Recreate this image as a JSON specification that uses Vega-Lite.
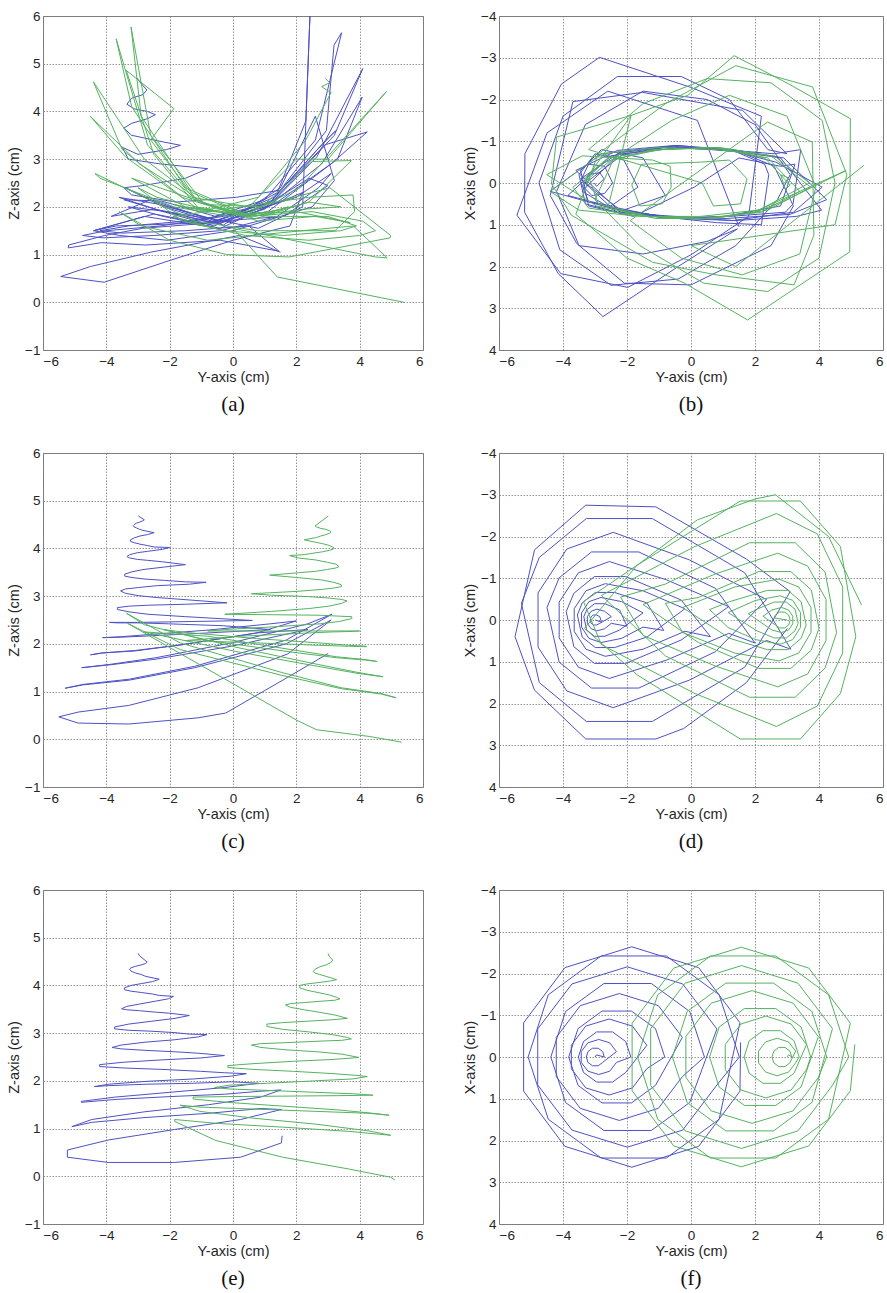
{
"$schema":"https://vega.github.io/schema/vega-lite/v6.json",
"background":"white",
"padding":{"left":6,"top":8,"right":0,"bottom":0},
"datasets":{"d":[
{"r":3,"s":"b","i":0,"y":-3.00,"x":0,"z":4.67},
{"r":3,"s":"b","i":1,"y":-2.95,"x":-0.05,"z":4.62},
{"r":3,"s":"b","i":2,"y":-2.71,"x":0,"z":4.49},
{"r":3,"s":"b","i":3,"y":-2.76,"x":-0.13,"z":4.46},
{"r":3,"s":"b","i":4,"y":-2.90,"x":-0.21,"z":4.43},
{"r":3,"s":"b","i":5,"y":-3.08,"x":-0.21,"z":4.40},
{"r":3,"s":"b","i":6,"y":-3.22,"x":-0.13,"z":4.37},
{"r":3,"s":"b","i":7,"y":-3.27,"x":0,"z":4.34},
{"r":3,"s":"b","i":8,"y":-3.22,"x":0.13,"z":4.30},
{"r":3,"s":"b","i":9,"y":-3.08,"x":0.21,"z":4.26},
{"r":3,"s":"b","i":10,"y":-2.90,"x":0.21,"z":4.23},
{"r":3,"s":"b","i":11,"y":-2.76,"x":0.13,"z":4.19},
{"r":3,"s":"b","i":12,"y":-2.33,"x":-0.13,"z":4.13},
{"r":3,"s":"b","i":13,"y":-2.54,"x":-0.34,"z":4.08},
{"r":3,"s":"b","i":14,"y":-2.88,"x":-0.42,"z":4.04},
{"r":3,"s":"b","i":15,"y":-3.22,"x":-0.34,"z":4.00},
{"r":3,"s":"b","i":16,"y":-3.43,"x":-0.13,"z":3.95},
{"r":3,"s":"b","i":17,"y":-3.43,"x":0.13,"z":3.91},
{"r":3,"s":"b","i":18,"y":-3.22,"x":0.34,"z":3.88},
{"r":3,"s":"b","i":19,"y":-2.88,"x":0.42,"z":3.85},
{"r":3,"s":"b","i":20,"y":-2.54,"x":0.34,"z":3.82},
{"r":3,"s":"b","i":21,"y":-2.33,"x":0.13,"z":3.79},
{"r":3,"s":"b","i":22,"y":-1.88,"x":0,"z":3.77},
{"r":3,"s":"b","i":23,"y":-2.04,"x":-0.37,"z":3.72},
{"r":3,"s":"b","i":24,"y":-2.45,"x":-0.60,"z":3.67},
{"r":3,"s":"b","i":25,"y":-2.95,"x":-0.60,"z":3.61},
{"r":3,"s":"b","i":26,"y":-3.36,"x":-0.37,"z":3.56},
{"r":3,"s":"b","i":27,"y":-3.52,"x":0,"z":3.51},
{"r":3,"s":"b","i":28,"y":-3.36,"x":0.37,"z":3.49},
{"r":3,"s":"b","i":29,"y":-2.95,"x":0.60,"z":3.47},
{"r":3,"s":"b","i":30,"y":-2.45,"x":0.60,"z":3.44},
{"r":3,"s":"b","i":31,"y":-2.04,"x":0.37,"z":3.42},
{"r":3,"s":"b","i":32,"y":-1.38,"x":-0.28,"z":3.37},
{"r":3,"s":"b","i":33,"y":-1.83,"x":-0.74,"z":3.31},
{"r":3,"s":"b","i":34,"y":-2.56,"x":-0.91,"z":3.25},
{"r":3,"s":"b","i":35,"y":-3.29,"x":-0.74,"z":3.19},
{"r":3,"s":"b","i":36,"y":-3.74,"x":-0.28,"z":3.13},
{"r":3,"s":"b","i":37,"y":-3.74,"x":0.28,"z":3.09},
{"r":3,"s":"b","i":38,"y":-3.29,"x":0.74,"z":3.06},
{"r":3,"s":"b","i":39,"y":-2.56,"x":0.91,"z":3.04},
{"r":3,"s":"b","i":40,"y":-1.83,"x":0.74,"z":3.01},
{"r":3,"s":"b","i":41,"y":-1.38,"x":0.28,"z":2.98},
{"r":3,"s":"b","i":42,"y":-0.82,"x":0,"z":2.97},
{"r":3,"s":"b","i":43,"y":-1.11,"x":-0.68,"z":2.92},
{"r":3,"s":"b","i":44,"y":-1.86,"x":-1.10,"z":2.86},
{"r":3,"s":"b","i":45,"y":-2.78,"x":-1.10,"z":2.81},
{"r":3,"s":"b","i":46,"y":-3.53,"x":-0.68,"z":2.75},
{"r":3,"s":"b","i":47,"y":-3.82,"x":0,"z":2.70},
{"r":3,"s":"b","i":48,"y":-3.53,"x":0.68,"z":2.67},
{"r":3,"s":"b","i":49,"y":-2.78,"x":1.10,"z":2.64},
{"r":3,"s":"b","i":50,"y":-1.86,"x":1.10,"z":2.61},
{"r":3,"s":"b","i":51,"y":-1.11,"x":0.68,"z":2.58},
{"r":3,"s":"b","i":52,"y":-0.27,"x":-0.47,"z":2.53},
{"r":3,"s":"b","i":53,"y":-1.02,"x":-1.23,"z":2.48},
{"r":3,"s":"b","i":54,"y":-2.24,"x":-1.52,"z":2.44},
{"r":3,"s":"b","i":55,"y":-3.46,"x":-1.23,"z":2.39},
{"r":3,"s":"b","i":56,"y":-4.21,"x":-0.47,"z":2.34},
{"r":3,"s":"b","i":57,"y":-4.21,"x":0.47,"z":2.30},
{"r":3,"s":"b","i":58,"y":-3.46,"x":1.23,"z":2.27},
{"r":3,"s":"b","i":59,"y":-2.24,"x":1.52,"z":2.24},
{"r":3,"s":"b","i":60,"y":-1.02,"x":1.23,"z":2.20},
{"r":3,"s":"b","i":61,"y":-0.27,"x":0.47,"z":2.17},
{"r":3,"s":"b","i":62,"y":0.42,"x":0,"z":2.15},
{"r":3,"s":"b","i":63,"y":-0.04,"x":-1.09,"z":2.10},
{"r":3,"s":"b","i":64,"y":-1.24,"x":-1.76,"z":2.04},
{"r":3,"s":"b","i":65,"y":-2.72,"x":-1.76,"z":1.99},
{"r":3,"s":"b","i":66,"y":-3.92,"x":-1.09,"z":1.93},
{"r":3,"s":"b","i":67,"y":-4.38,"x":0,"z":1.88},
{"r":3,"s":"b","i":68,"y":-3.92,"x":1.09,"z":1.90},
{"r":3,"s":"b","i":69,"y":-2.72,"x":1.76,"z":1.93},
{"r":3,"s":"b","i":70,"y":-1.24,"x":1.76,"z":1.95},
{"r":3,"s":"b","i":71,"y":-0.04,"x":1.09,"z":1.98},
{"r":3,"s":"b","i":72,"y":0.81,"x":-0.67,"z":1.95},
{"r":3,"s":"b","i":73,"y":-0.26,"x":-1.75,"z":1.86},
{"r":3,"s":"b","i":74,"y":-1.99,"x":-2.16,"z":1.76},
{"r":3,"s":"b","i":75,"y":-3.72,"x":-1.75,"z":1.66},
{"r":3,"s":"b","i":76,"y":-4.79,"x":-0.67,"z":1.57},
{"r":3,"s":"b","i":77,"y":-4.79,"x":0.67,"z":1.55},
{"r":3,"s":"b","i":78,"y":-3.72,"x":1.75,"z":1.61},
{"r":3,"s":"b","i":79,"y":-1.99,"x":2.16,"z":1.67},
{"r":3,"s":"b","i":80,"y":-0.26,"x":1.75,"z":1.72},
{"r":3,"s":"b","i":81,"y":0.81,"x":0.67,"z":1.78},
{"r":3,"s":"b","i":82,"y":1.51,"x":0,"z":1.81},
{"r":3,"s":"b","i":83,"y":0.88,"x":-1.49,"z":1.66},
{"r":3,"s":"b","i":84,"y":-0.77,"x":-2.42,"z":1.50},
{"r":3,"s":"b","i":85,"y":-2.81,"x":-2.42,"z":1.35},
{"r":3,"s":"b","i":86,"y":-4.46,"x":-1.49,"z":1.19},
{"r":3,"s":"b","i":87,"y":-5.09,"x":0,"z":1.04},
{"r":3,"s":"b","i":88,"y":-4.46,"x":1.49,"z":1.13},
{"r":3,"s":"b","i":89,"y":-2.81,"x":2.42,"z":1.23},
{"r":3,"s":"b","i":90,"y":-0.77,"x":2.42,"z":1.32},
{"r":3,"s":"b","i":91,"y":0.88,"x":1.49,"z":1.42},
{"r":3,"s":"b","i":92,"y":1.53,"x":-0.82,"z":1.40},
{"r":3,"s":"b","i":93,"y":0.24,"x":-2.14,"z":1.19},
{"r":3,"s":"b","i":94,"y":-1.85,"x":-2.64,"z":0.98},
{"r":3,"s":"b","i":95,"y":-3.94,"x":-2.14,"z":0.76},
{"r":3,"s":"b","i":96,"y":-5.23,"x":-0.82,"z":0.55},
{"r":3,"s":"b","i":97,"y":-5.23,"x":0.82,"z":0.40},
{"r":3,"s":"b","i":98,"y":-3.94,"x":2.14,"z":0.29},
{"r":3,"s":"b","i":99,"y":-1.85,"x":2.64,"z":0.29},
{"r":3,"s":"b","i":100,"y":0.24,"x":2.14,"z":0.40},
{"r":3,"s":"b","i":101,"y":1.53,"x":0.82,"z":0.70},
{"r":3,"s":"b","i":102,"y":1.55,"x":-0.35,"z":0.85},
{"r":3,"s":"g","i":0,"y":3.00,"x":0,"z":4.67},
{"r":3,"s":"g","i":1,"y":3.05,"x":-0.05,"z":4.60},
{"r":3,"s":"g","i":2,"y":3.15,"x":0,"z":4.53},
{"r":3,"s":"g","i":3,"y":3.09,"x":-0.14,"z":4.48},
{"r":3,"s":"g","i":4,"y":2.94,"x":-0.23,"z":4.43},
{"r":3,"s":"g","i":5,"y":2.74,"x":-0.23,"z":4.39},
{"r":3,"s":"g","i":6,"y":2.59,"x":-0.14,"z":4.34},
{"r":3,"s":"g","i":7,"y":2.53,"x":0,"z":4.29},
{"r":3,"s":"g","i":8,"y":2.59,"x":0.14,"z":4.26},
{"r":3,"s":"g","i":9,"y":2.74,"x":0.23,"z":4.23},
{"r":3,"s":"g","i":10,"y":2.94,"x":0.23,"z":4.19},
{"r":3,"s":"g","i":11,"y":3.09,"x":0.14,"z":4.16},
{"r":3,"s":"g","i":12,"y":3.27,"x":-0.14,"z":4.12},
{"r":3,"s":"g","i":13,"y":3.05,"x":-0.36,"z":4.09},
{"r":3,"s":"g","i":14,"y":2.69,"x":-0.45,"z":4.06},
{"r":3,"s":"g","i":15,"y":2.33,"x":-0.36,"z":4.03},
{"r":3,"s":"g","i":16,"y":2.11,"x":-0.14,"z":4.00},
{"r":3,"s":"g","i":17,"y":2.11,"x":0.14,"z":3.95},
{"r":3,"s":"g","i":18,"y":2.33,"x":0.36,"z":3.90},
{"r":3,"s":"g","i":19,"y":2.69,"x":0.45,"z":3.85},
{"r":3,"s":"g","i":20,"y":3.05,"x":0.36,"z":3.80},
{"r":3,"s":"g","i":21,"y":3.27,"x":0.14,"z":3.75},
{"r":3,"s":"g","i":22,"y":3.38,"x":0,"z":3.72},
{"r":3,"s":"g","i":23,"y":3.22,"x":-0.39,"z":3.69},
{"r":3,"s":"g","i":24,"y":2.79,"x":-0.63,"z":3.67},
{"r":3,"s":"g","i":25,"y":2.25,"x":-0.63,"z":3.64},
{"r":3,"s":"g","i":26,"y":1.82,"x":-0.39,"z":3.62},
{"r":3,"s":"g","i":27,"y":1.66,"x":0,"z":3.59},
{"r":3,"s":"g","i":28,"y":1.82,"x":0.39,"z":3.54},
{"r":3,"s":"g","i":29,"y":2.25,"x":0.63,"z":3.49},
{"r":3,"s":"g","i":30,"y":2.79,"x":0.63,"z":3.43},
{"r":3,"s":"g","i":31,"y":3.22,"x":0.39,"z":3.38},
{"r":3,"s":"g","i":32,"y":3.61,"x":-0.30,"z":3.31},
{"r":3,"s":"g","i":33,"y":3.13,"x":-0.79,"z":3.28},
{"r":3,"s":"g","i":34,"y":2.34,"x":-0.98,"z":3.25},
{"r":3,"s":"g","i":35,"y":1.56,"x":-0.79,"z":3.22},
{"r":3,"s":"g","i":36,"y":1.07,"x":-0.30,"z":3.19},
{"r":3,"s":"g","i":37,"y":1.07,"x":0.30,"z":3.14},
{"r":3,"s":"g","i":38,"y":1.56,"x":0.79,"z":3.08},
{"r":3,"s":"g","i":39,"y":2.34,"x":0.98,"z":3.03},
{"r":3,"s":"g","i":40,"y":3.13,"x":0.79,"z":2.97},
{"r":3,"s":"g","i":41,"y":3.61,"x":0.30,"z":2.91},
{"r":3,"s":"g","i":42,"y":3.74,"x":0,"z":2.88},
{"r":3,"s":"g","i":43,"y":3.44,"x":-0.72,"z":2.85},
{"r":3,"s":"g","i":44,"y":2.65,"x":-1.16,"z":2.83},
{"r":3,"s":"g","i":45,"y":1.67,"x":-1.16,"z":2.80},
{"r":3,"s":"g","i":46,"y":0.88,"x":-0.72,"z":2.78},
{"r":3,"s":"g","i":47,"y":0.58,"x":0,"z":2.75},
{"r":3,"s":"g","i":48,"y":0.88,"x":0.72,"z":2.70},
{"r":3,"s":"g","i":49,"y":1.67,"x":1.16,"z":2.65},
{"r":3,"s":"g","i":50,"y":2.65,"x":1.16,"z":2.61},
{"r":3,"s":"g","i":51,"y":3.44,"x":0.72,"z":2.56},
{"r":3,"s":"g","i":52,"y":3.98,"x":-0.49,"z":2.49},
{"r":3,"s":"g","i":53,"y":3.19,"x":-1.29,"z":2.45},
{"r":3,"s":"g","i":54,"y":1.91,"x":-1.59,"z":2.41},
{"r":3,"s":"g","i":55,"y":0.63,"x":-1.29,"z":2.36},
{"r":3,"s":"g","i":56,"y":-0.16,"x":-0.49,"z":2.32},
{"r":3,"s":"g","i":57,"y":-0.16,"x":0.49,"z":2.28},
{"r":3,"s":"g","i":58,"y":0.63,"x":1.29,"z":2.24},
{"r":3,"s":"g","i":59,"y":1.91,"x":1.59,"z":2.20},
{"r":3,"s":"g","i":60,"y":3.19,"x":1.29,"z":2.15},
{"r":3,"s":"g","i":61,"y":3.98,"x":0.49,"z":2.11},
{"r":3,"s":"g","i":62,"y":4.24,"x":0,"z":2.09},
{"r":3,"s":"g","i":63,"y":3.78,"x":-1.09,"z":2.04},
{"r":3,"s":"g","i":64,"y":2.58,"x":-1.77,"z":2.00},
{"r":3,"s":"g","i":65,"y":1.09,"x":-1.77,"z":1.95},
{"r":3,"s":"g","i":66,"y":-0.12,"x":-1.09,"z":1.91},
{"r":3,"s":"g","i":67,"y":-0.58,"x":0,"z":1.86},
{"r":3,"s":"g","i":68,"y":-0.12,"x":1.09,"z":1.83},
{"r":3,"s":"g","i":69,"y":1.09,"x":1.77,"z":1.80},
{"r":3,"s":"g","i":70,"y":2.58,"x":1.77,"z":1.76},
{"r":3,"s":"g","i":71,"y":3.78,"x":1.09,"z":1.73},
{"r":3,"s":"g","i":72,"y":4.42,"x":-0.68,"z":1.70},
{"r":3,"s":"g","i":73,"y":3.34,"x":-1.77,"z":1.69},
{"r":3,"s":"g","i":74,"y":1.58,"x":-2.19,"z":1.68},
{"r":3,"s":"g","i":75,"y":-0.18,"x":-1.77,"z":1.67},
{"r":3,"s":"g","i":76,"y":-1.26,"x":-0.68,"z":1.66},
{"r":3,"s":"g","i":77,"y":-1.26,"x":0.68,"z":1.62},
{"r":3,"s":"g","i":78,"y":-0.18,"x":1.77,"z":1.55},
{"r":3,"s":"g","i":79,"y":1.58,"x":2.19,"z":1.47},
{"r":3,"s":"g","i":80,"y":3.34,"x":1.77,"z":1.39},
{"r":3,"s":"g","i":81,"y":4.42,"x":0.68,"z":1.32},
{"r":3,"s":"g","i":82,"y":4.93,"x":0,"z":1.28},
{"r":3,"s":"g","i":83,"y":4.30,"x":-1.49,"z":1.32},
{"r":3,"s":"g","i":84,"y":2.65,"x":-2.42,"z":1.36},
{"r":3,"s":"g","i":85,"y":0.61,"x":-2.42,"z":1.41},
{"r":3,"s":"g","i":86,"y":-1.04,"x":-1.49,"z":1.45},
{"r":3,"s":"g","i":87,"y":-1.67,"x":0,"z":1.49},
{"r":3,"s":"g","i":88,"y":-1.04,"x":1.49,"z":1.36},
{"r":3,"s":"g","i":89,"y":0.61,"x":2.42,"z":1.22},
{"r":3,"s":"g","i":90,"y":2.65,"x":2.42,"z":1.09},
{"r":3,"s":"g","i":91,"y":4.30,"x":1.49,"z":0.95},
{"r":3,"s":"g","i":92,"y":4.98,"x":-0.81,"z":0.86},
{"r":3,"s":"g","i":93,"y":3.68,"x":-2.13,"z":0.94},
{"r":3,"s":"g","i":94,"y":1.57,"x":-2.63,"z":1.03},
{"r":3,"s":"g","i":95,"y":-0.54,"x":-2.13,"z":1.11},
{"r":3,"s":"g","i":96,"y":-1.84,"x":-0.81,"z":1.19},
{"r":3,"s":"g","i":97,"y":-1.84,"x":0.81,"z":1.15},
{"r":3,"s":"g","i":98,"y":-0.54,"x":2.13,"z":0.75},
{"r":3,"s":"g","i":99,"y":1.57,"x":2.63,"z":0.40},
{"r":3,"s":"g","i":100,"y":3.68,"x":2.13,"z":0.15},
{"r":3,"s":"g","i":101,"y":4.98,"x":0.81,"z":-0.02},
{"r":3,"s":"g","i":102,"y":5.12,"x":-0.30,"z":-0.08},
{"r":2,"s":"b","i":0,"y":-2.99,"x":0,"z":4.68},
{"r":2,"s":"b","i":1,"y":-2.80,"x":0.05,"z":4.60},
{"r":2,"s":"b","i":2,"y":-2.85,"x":-0.08,"z":4.58},
{"r":2,"s":"b","i":3,"y":-2.95,"x":-0.12,"z":4.55},
{"r":2,"s":"b","i":4,"y":-3.05,"x":-0.12,"z":4.53},
{"r":2,"s":"b","i":5,"y":-3.12,"x":-0.08,"z":4.50},
{"r":2,"s":"b","i":6,"y":-3.15,"x":0,"z":4.48},
{"r":2,"s":"b","i":7,"y":-3.12,"x":0.08,"z":4.45},
{"r":2,"s":"b","i":8,"y":-3.05,"x":0.12,"z":4.43},
{"r":2,"s":"b","i":9,"y":-2.95,"x":0.12,"z":4.40},
{"r":2,"s":"b","i":10,"y":-2.85,"x":0.08,"z":4.38},
{"r":2,"s":"b","i":11,"y":-2.49,"x":-0.08,"z":4.33},
{"r":2,"s":"b","i":12,"y":-2.70,"x":-0.21,"z":4.29},
{"r":2,"s":"b","i":13,"y":-2.94,"x":-0.26,"z":4.26},
{"r":2,"s":"b","i":14,"y":-3.12,"x":-0.21,"z":4.22},
{"r":2,"s":"b","i":15,"y":-3.24,"x":-0.08,"z":4.18},
{"r":2,"s":"b","i":16,"y":-3.24,"x":0.08,"z":4.15},
{"r":2,"s":"b","i":17,"y":-3.12,"x":0.21,"z":4.12},
{"r":2,"s":"b","i":18,"y":-2.94,"x":0.26,"z":4.09},
{"r":2,"s":"b","i":19,"y":-2.70,"x":0.21,"z":4.06},
{"r":2,"s":"b","i":20,"y":-2.49,"x":0.08,"z":4.03},
{"r":2,"s":"b","i":21,"y":-2.00,"x":0.15,"z":4.02},
{"r":2,"s":"b","i":22,"y":-2.23,"x":-0.24,"z":3.98},
{"r":2,"s":"b","i":23,"y":-2.69,"x":-0.39,"z":3.94},
{"r":2,"s":"b","i":24,"y":-3.02,"x":-0.39,"z":3.91},
{"r":2,"s":"b","i":25,"y":-3.26,"x":-0.24,"z":3.87},
{"r":2,"s":"b","i":26,"y":-3.35,"x":-0.08,"z":3.83},
{"r":2,"s":"b","i":27,"y":-3.26,"x":0.24,"z":3.80},
{"r":2,"s":"b","i":28,"y":-3.02,"x":0.39,"z":3.77},
{"r":2,"s":"b","i":29,"y":-2.69,"x":0.39,"z":3.75},
{"r":2,"s":"b","i":30,"y":-2.23,"x":0.24,"z":3.72},
{"r":2,"s":"b","i":31,"y":-1.50,"x":-0.17,"z":3.66},
{"r":2,"s":"b","i":32,"y":-2.17,"x":-0.44,"z":3.61},
{"r":2,"s":"b","i":33,"y":-2.81,"x":-0.54,"z":3.56},
{"r":2,"s":"b","i":34,"y":-3.19,"x":-0.44,"z":3.51},
{"r":2,"s":"b","i":35,"y":-3.42,"x":-0.17,"z":3.46},
{"r":2,"s":"b","i":36,"y":-3.42,"x":0.17,"z":3.42},
{"r":2,"s":"b","i":37,"y":-3.19,"x":0.44,"z":3.39},
{"r":2,"s":"b","i":38,"y":-2.81,"x":0.54,"z":3.36},
{"r":2,"s":"b","i":39,"y":-2.17,"x":0.44,"z":3.33},
{"r":2,"s":"b","i":40,"y":-1.50,"x":0.17,"z":3.30},
{"r":2,"s":"b","i":41,"y":-0.85,"x":0.25,"z":3.29},
{"r":2,"s":"b","i":42,"y":-1.38,"x":-0.41,"z":3.25},
{"r":2,"s":"b","i":43,"y":-2.39,"x":-0.66,"z":3.22},
{"r":2,"s":"b","i":44,"y":-2.99,"x":-0.66,"z":3.18},
{"r":2,"s":"b","i":45,"y":-3.40,"x":-0.41,"z":3.15},
{"r":2,"s":"b","i":46,"y":-3.55,"x":-0.12,"z":3.11},
{"r":2,"s":"b","i":47,"y":-3.40,"x":0.41,"z":3.06},
{"r":2,"s":"b","i":48,"y":-2.99,"x":0.66,"z":3.01},
{"r":2,"s":"b","i":49,"y":-2.39,"x":0.66,"z":2.97},
{"r":2,"s":"b","i":50,"y":-1.38,"x":0.41,"z":2.92},
{"r":2,"s":"b","i":51,"y":-0.19,"x":-0.27,"z":2.86},
{"r":2,"s":"b","i":52,"y":-1.50,"x":-0.70,"z":2.83},
{"r":2,"s":"b","i":53,"y":-2.68,"x":-0.87,"z":2.81},
{"r":2,"s":"b","i":54,"y":-3.28,"x":-0.70,"z":2.79},
{"r":2,"s":"b","i":55,"y":-3.65,"x":-0.27,"z":2.76},
{"r":2,"s":"b","i":56,"y":-3.65,"x":0.27,"z":2.72},
{"r":2,"s":"b","i":57,"y":-3.28,"x":0.70,"z":2.67},
{"r":2,"s":"b","i":58,"y":-2.68,"x":0.87,"z":2.62},
{"r":2,"s":"b","i":59,"y":-1.50,"x":0.70,"z":2.57},
{"r":2,"s":"b","i":60,"y":-0.19,"x":0.27,"z":2.52},
{"r":2,"s":"b","i":61,"y":0.61,"x":0.40,"z":2.49},
{"r":2,"s":"b","i":62,"y":-0.31,"x":-0.48,"z":2.48},
{"r":2,"s":"b","i":63,"y":-2.04,"x":-1.04,"z":2.46},
{"r":2,"s":"b","i":64,"y":-3.02,"x":-1.04,"z":2.45},
{"r":2,"s":"b","i":65,"y":-3.66,"x":-0.64,"z":2.45},
{"r":2,"s":"b","i":66,"y":-3.90,"x":-0.20,"z":2.45},
{"r":2,"s":"b","i":67,"y":-3.66,"x":0.64,"z":2.44},
{"r":2,"s":"b","i":68,"y":-3.02,"x":1.04,"z":2.44},
{"r":2,"s":"b","i":69,"y":-2.04,"x":1.04,"z":2.42},
{"r":2,"s":"b","i":70,"y":-0.31,"x":0.48,"z":2.38},
{"r":2,"s":"b","i":71,"y":1.18,"x":-0.32,"z":2.30},
{"r":2,"s":"b","i":72,"y":-0.76,"x":-0.96,"z":2.23},
{"r":2,"s":"b","i":73,"y":-2.55,"x":-1.40,"z":2.17},
{"r":2,"s":"b","i":74,"y":-3.52,"x":-1.13,"z":2.14},
{"r":2,"s":"b","i":75,"y":-4.12,"x":-0.43,"z":2.13},
{"r":2,"s":"b","i":76,"y":-4.12,"x":0.43,"z":2.13},
{"r":2,"s":"b","i":77,"y":-3.52,"x":1.13,"z":2.15},
{"r":2,"s":"b","i":78,"y":-2.55,"x":1.40,"z":2.20},
{"r":2,"s":"b","i":79,"y":-0.76,"x":0.96,"z":2.29},
{"r":2,"s":"b","i":80,"y":1.18,"x":0.32,"z":2.42},
{"r":2,"s":"b","i":81,"y":2.00,"x":0.55,"z":2.48},
{"r":2,"s":"b","i":82,"y":0.76,"x":-0.76,"z":2.23},
{"r":2,"s":"b","i":83,"y":-1.63,"x":-1.63,"z":1.98},
{"r":2,"s":"b","i":84,"y":-3.11,"x":-1.63,"z":1.86},
{"r":2,"s":"b","i":85,"y":-4.12,"x":-1.01,"z":1.81},
{"r":2,"s":"b","i":86,"y":-4.50,"x":-0.30,"z":1.77},
{"r":2,"s":"b","i":87,"y":-4.12,"x":1.01,"z":1.81},
{"r":2,"s":"b","i":88,"y":-3.11,"x":1.63,"z":1.85},
{"r":2,"s":"b","i":89,"y":-1.63,"x":1.63,"z":1.98},
{"r":2,"s":"b","i":90,"y":0.76,"x":0.76,"z":2.23},
{"r":2,"s":"b","i":91,"y":2.36,"x":-0.49,"z":2.30},
{"r":2,"s":"b","i":92,"y":-0.05,"x":-1.44,"z":1.95},
{"r":2,"s":"b","i":93,"y":-2.43,"x":-2.10,"z":1.68},
{"r":2,"s":"b","i":94,"y":-3.88,"x":-1.70,"z":1.56},
{"r":2,"s":"b","i":95,"y":-4.78,"x":-0.65,"z":1.50},
{"r":2,"s":"b","i":96,"y":-4.78,"x":0.65,"z":1.50},
{"r":2,"s":"b","i":97,"y":-3.88,"x":1.70,"z":1.57},
{"r":2,"s":"b","i":98,"y":-2.43,"x":2.10,"z":1.71},
{"r":2,"s":"b","i":99,"y":-0.05,"x":1.44,"z":2.02},
{"r":2,"s":"b","i":100,"y":2.36,"x":0.49,"z":2.42},
{"r":2,"s":"b","i":101,"y":3.12,"x":0.70,"z":2.62},
{"r":2,"s":"b","i":102,"y":1.68,"x":-1.13,"z":2.08},
{"r":2,"s":"b","i":103,"y":-1.21,"x":-2.43,"z":1.53},
{"r":2,"s":"b","i":104,"y":-3.27,"x":-2.43,"z":1.26},
{"r":2,"s":"b","i":105,"y":-4.74,"x":-1.50,"z":1.15},
{"r":2,"s":"b","i":106,"y":-5.30,"x":-0.40,"z":1.07},
{"r":2,"s":"b","i":107,"y":-4.74,"x":1.50,"z":1.14},
{"r":2,"s":"b","i":108,"y":-3.27,"x":2.43,"z":1.24},
{"r":2,"s":"b","i":109,"y":-1.21,"x":2.43,"z":1.50},
{"r":2,"s":"b","i":110,"y":1.68,"x":1.13,"z":2.00},
{"r":2,"s":"b","i":111,"y":3.10,"x":-0.68,"z":2.50},
{"r":2,"s":"b","i":112,"y":1.73,"x":-1.46,"z":1.79},
{"r":2,"s":"b","i":113,"y":-1.10,"x":-2.71,"z":1.08},
{"r":2,"s":"b","i":114,"y":-3.29,"x":-2.75,"z":0.71},
{"r":2,"s":"b","i":115,"y":-4.89,"x":-1.68,"z":0.57},
{"r":2,"s":"b","i":116,"y":-5.50,"x":0.40,"z":0.47},
{"r":2,"s":"b","i":117,"y":-4.89,"x":1.68,"z":0.34},
{"r":2,"s":"b","i":118,"y":-3.29,"x":2.85,"z":0.32},
{"r":2,"s":"b","i":119,"y":-1.10,"x":2.85,"z":0.45},
{"r":2,"s":"b","i":120,"y":-0.23,"x":2.60,"z":0.55},
{"r":2,"s":"b","i":121,"y":1.73,"x":1.50,"z":1.30},
{"r":2,"s":"b","i":122,"y":3.01,"x":0.20,"z":1.80},
{"r":2,"s":"g","i":0,"y":3.01,"x":0,"z":4.68},
{"r":2,"s":"g","i":1,"y":2.59,"x":-0.05,"z":4.47},
{"r":2,"s":"g","i":2,"y":2.64,"x":-0.12,"z":4.45},
{"r":2,"s":"g","i":3,"y":2.77,"x":-0.19,"z":4.42},
{"r":2,"s":"g","i":4,"y":2.93,"x":-0.19,"z":4.40},
{"r":2,"s":"g","i":5,"y":3.05,"x":-0.12,"z":4.37},
{"r":2,"s":"g","i":6,"y":3.10,"x":0,"z":4.35},
{"r":2,"s":"g","i":7,"y":3.05,"x":0.12,"z":4.32},
{"r":2,"s":"g","i":8,"y":2.93,"x":0.19,"z":4.29},
{"r":2,"s":"g","i":9,"y":2.77,"x":0.19,"z":4.26},
{"r":2,"s":"g","i":10,"y":2.64,"x":0.12,"z":4.23},
{"r":2,"s":"g","i":11,"y":2.25,"x":-0.09,"z":4.18},
{"r":2,"s":"g","i":12,"y":2.53,"x":-0.24,"z":4.14},
{"r":2,"s":"g","i":13,"y":2.83,"x":-0.30,"z":4.10},
{"r":2,"s":"g","i":14,"y":3.05,"x":-0.24,"z":4.06},
{"r":2,"s":"g","i":15,"y":3.18,"x":-0.09,"z":4.02},
{"r":2,"s":"g","i":16,"y":3.18,"x":0.09,"z":3.99},
{"r":2,"s":"g","i":17,"y":3.05,"x":0.24,"z":3.96},
{"r":2,"s":"g","i":18,"y":2.83,"x":0.30,"z":3.93},
{"r":2,"s":"g","i":19,"y":2.53,"x":0.24,"z":3.90},
{"r":2,"s":"g","i":20,"y":2.25,"x":0.09,"z":3.87},
{"r":2,"s":"g","i":21,"y":1.79,"x":-0.15,"z":3.85},
{"r":2,"s":"g","i":22,"y":2.06,"x":-0.26,"z":3.80},
{"r":2,"s":"g","i":23,"y":2.60,"x":-0.43,"z":3.76},
{"r":2,"s":"g","i":24,"y":2.98,"x":-0.43,"z":3.71},
{"r":2,"s":"g","i":25,"y":3.25,"x":-0.26,"z":3.67},
{"r":2,"s":"g","i":26,"y":3.35,"x":0.08,"z":3.62},
{"r":2,"s":"g","i":27,"y":3.25,"x":0.26,"z":3.59},
{"r":2,"s":"g","i":28,"y":2.98,"x":0.43,"z":3.56},
{"r":2,"s":"g","i":29,"y":2.60,"x":0.43,"z":3.52},
{"r":2,"s":"g","i":30,"y":2.06,"x":0.26,"z":3.49},
{"r":2,"s":"g","i":31,"y":1.16,"x":-0.18,"z":3.44},
{"r":2,"s":"g","i":32,"y":2.02,"x":-0.47,"z":3.39},
{"r":2,"s":"g","i":33,"y":2.79,"x":-0.58,"z":3.34},
{"r":2,"s":"g","i":34,"y":3.18,"x":-0.47,"z":3.29},
{"r":2,"s":"g","i":35,"y":3.42,"x":-0.18,"z":3.24},
{"r":2,"s":"g","i":36,"y":3.42,"x":0.18,"z":3.20},
{"r":2,"s":"g","i":37,"y":3.18,"x":0.47,"z":3.17},
{"r":2,"s":"g","i":38,"y":2.79,"x":0.58,"z":3.14},
{"r":2,"s":"g","i":39,"y":2.02,"x":0.47,"z":3.10},
{"r":2,"s":"g","i":40,"y":1.16,"x":0.18,"z":3.07},
{"r":2,"s":"g","i":41,"y":0.58,"x":-0.25,"z":3.05},
{"r":2,"s":"g","i":42,"y":1.21,"x":-0.44,"z":3.02},
{"r":2,"s":"g","i":43,"y":2.39,"x":-0.71,"z":2.99},
{"r":2,"s":"g","i":44,"y":3.03,"x":-0.71,"z":2.96},
{"r":2,"s":"g","i":45,"y":3.44,"x":-0.44,"z":2.93},
{"r":2,"s":"g","i":46,"y":3.60,"x":0.12,"z":2.90},
{"r":2,"s":"g","i":47,"y":3.44,"x":0.44,"z":2.85},
{"r":2,"s":"g","i":48,"y":3.03,"x":0.71,"z":2.79},
{"r":2,"s":"g","i":49,"y":2.39,"x":0.71,"z":2.74},
{"r":2,"s":"g","i":50,"y":1.21,"x":0.44,"z":2.68},
{"r":2,"s":"g","i":51,"y":-0.26,"x":-0.30,"z":2.62},
{"r":2,"s":"g","i":52,"y":1.36,"x":-0.79,"z":2.61},
{"r":2,"s":"g","i":53,"y":2.75,"x":-0.98,"z":2.60},
{"r":2,"s":"g","i":54,"y":3.37,"x":-0.79,"z":2.58},
{"r":2,"s":"g","i":55,"y":3.75,"x":-0.30,"z":2.57},
{"r":2,"s":"g","i":56,"y":3.75,"x":0.30,"z":2.53},
{"r":2,"s":"g","i":57,"y":3.37,"x":0.79,"z":2.47},
{"r":2,"s":"g","i":58,"y":2.75,"x":0.98,"z":2.42},
{"r":2,"s":"g","i":59,"y":1.36,"x":0.79,"z":2.36},
{"r":2,"s":"g","i":60,"y":-0.26,"x":0.30,"z":2.30},
{"r":2,"s":"g","i":61,"y":-0.80,"x":-0.40,"z":2.27},
{"r":2,"s":"g","i":62,"y":0.23,"x":-0.54,"z":2.27},
{"r":2,"s":"g","i":63,"y":2.12,"x":-1.16,"z":2.27},
{"r":2,"s":"g","i":64,"y":3.12,"x":-1.16,"z":2.27},
{"r":2,"s":"g","i":65,"y":3.76,"x":-0.72,"z":2.27},
{"r":2,"s":"g","i":66,"y":4.00,"x":0.20,"z":2.27},
{"r":2,"s":"g","i":67,"y":3.76,"x":0.72,"z":2.26},
{"r":2,"s":"g","i":68,"y":3.12,"x":1.16,"z":2.25},
{"r":2,"s":"g","i":69,"y":2.12,"x":1.16,"z":2.22},
{"r":2,"s":"g","i":70,"y":0.23,"x":0.54,"z":2.16},
{"r":2,"s":"g","i":71,"y":-1.50,"x":-0.37,"z":2.07},
{"r":2,"s":"g","i":72,"y":0.75,"x":-1.10,"z":2.02},
{"r":2,"s":"g","i":73,"y":2.71,"x":-1.60,"z":1.97},
{"r":2,"s":"g","i":74,"y":3.65,"x":-1.29,"z":1.95},
{"r":2,"s":"g","i":75,"y":4.22,"x":-0.49,"z":1.94},
{"r":2,"s":"g","i":76,"y":4.22,"x":0.49,"z":1.95},
{"r":2,"s":"g","i":77,"y":3.65,"x":1.29,"z":1.97},
{"r":2,"s":"g","i":78,"y":2.71,"x":1.60,"z":2.02},
{"r":2,"s":"g","i":79,"y":0.75,"x":1.10,"z":2.11},
{"r":2,"s":"g","i":80,"y":-1.50,"x":0.37,"z":2.24},
{"r":2,"s":"g","i":81,"y":-2.20,"x":-0.55,"z":2.30},
{"r":2,"s":"g","i":82,"y":-0.80,"x":-0.86,"z":2.07},
{"r":2,"s":"g","i":83,"y":1.83,"x":-1.85,"z":1.83},
{"r":2,"s":"g","i":84,"y":3.26,"x":-1.85,"z":1.71},
{"r":2,"s":"g","i":85,"y":4.19,"x":-1.15,"z":1.66},
{"r":2,"s":"g","i":86,"y":4.55,"x":0.30,"z":1.63},
{"r":2,"s":"g","i":87,"y":4.19,"x":1.15,"z":1.67},
{"r":2,"s":"g","i":88,"y":3.26,"x":1.85,"z":1.73},
{"r":2,"s":"g","i":89,"y":1.83,"x":1.85,"z":1.88},
{"r":2,"s":"g","i":90,"y":-0.80,"x":0.86,"z":2.16},
{"r":2,"s":"g","i":91,"y":-2.80,"x":-0.59,"z":2.25},
{"r":2,"s":"g","i":92,"y":0.09,"x":-1.75,"z":1.84},
{"r":2,"s":"g","i":93,"y":2.67,"x":-2.55,"z":1.53},
{"r":2,"s":"g","i":94,"y":3.95,"x":-2.06,"z":1.38},
{"r":2,"s":"g","i":95,"y":4.74,"x":-0.79,"z":1.31},
{"r":2,"s":"g","i":96,"y":4.74,"x":0.79,"z":1.31},
{"r":2,"s":"g","i":97,"y":3.95,"x":2.06,"z":1.40},
{"r":2,"s":"g","i":98,"y":2.67,"x":2.55,"z":1.57},
{"r":2,"s":"g","i":99,"y":0.09,"x":1.75,"z":1.93},
{"r":2,"s":"g","i":100,"y":-2.80,"x":0.59,"z":2.40},
{"r":2,"s":"g","i":101,"y":-3.36,"x":-0.44,"z":2.64},
{"r":2,"s":"g","i":102,"y":-1.67,"x":-1.32,"z":2.02},
{"r":2,"s":"g","i":103,"y":1.54,"x":-2.85,"z":1.40},
{"r":2,"s":"g","i":104,"y":3.42,"x":-2.85,"z":1.08},
{"r":2,"s":"g","i":105,"y":4.67,"x":-1.76,"z":0.96},
{"r":2,"s":"g","i":106,"y":5.15,"x":0.40,"z":0.87},
{"r":2,"s":"g","i":107,"y":4.67,"x":1.76,"z":0.95},
{"r":2,"s":"g","i":108,"y":3.42,"x":2.85,"z":1.06},
{"r":2,"s":"g","i":109,"y":1.54,"x":2.85,"z":1.34},
{"r":2,"s":"g","i":110,"y":-1.67,"x":1.32,"z":1.88},
{"r":2,"s":"g","i":111,"y":-3.33,"x":0.20,"z":2.43},
{"r":2,"s":"g","i":112,"y":-1.70,"x":-1.30,"z":1.81},
{"r":2,"s":"g","i":113,"y":0.20,"x":-2.40,"z":1.09},
{"r":2,"s":"g","i":114,"y":2.01,"x":-2.90,"z":0.40},
{"r":2,"s":"g","i":115,"y":2.64,"x":-3.00,"z":0.20},
{"r":2,"s":"g","i":116,"y":4.30,"x":-2.00,"z":0.06},
{"r":2,"s":"g","i":117,"y":5.33,"x":-0.36,"z":-0.06},
{"r":1,"s":"b","i":0,"y":-3.03,"x":0,"z":4.70},
{"r":1,"s":"b","i":1,"y":-2.95,"x":0.08,"z":4.62},
{"r":1,"s":"b","i":2,"y":-2.72,"x":-0.10,"z":4.45},
{"r":1,"s":"b","i":3,"y":-2.85,"x":-0.25,"z":4.35},
{"r":1,"s":"b","i":4,"y":-3.20,"x":-0.20,"z":4.28},
{"r":1,"s":"b","i":5,"y":-3.35,"x":0.10,"z":4.15},
{"r":1,"s":"b","i":6,"y":-3.10,"x":0.30,"z":4.05},
{"r":1,"s":"b","i":7,"y":-2.70,"x":0.25,"z":4.00},
{"r":1,"s":"b","i":8,"y":-2.45,"x":0,"z":3.93},
{"r":1,"s":"b","i":9,"y":-2.70,"x":-0.40,"z":3.85},
{"r":1,"s":"b","i":10,"y":-3.20,"x":-0.45,"z":3.75},
{"r":1,"s":"b","i":11,"y":-3.45,"x":-0.05,"z":3.65},
{"r":1,"s":"b","i":12,"y":-3.20,"x":0.45,"z":3.50},
{"r":1,"s":"b","i":13,"y":-2.50,"x":0.55,"z":3.40},
{"r":1,"s":"b","i":14,"y":-1.66,"x":0.10,"z":3.29},
{"r":1,"s":"b","i":15,"y":-2.10,"x":-0.55,"z":3.20},
{"r":1,"s":"b","i":16,"y":-3.00,"x":-0.70,"z":3.10},
{"r":1,"s":"b","i":17,"y":-3.50,"x":-0.20,"z":3.25},
{"r":1,"s":"b","i":18,"y":-3.30,"x":0.50,"z":3.00},
{"r":1,"s":"b","i":19,"y":-2.30,"x":0.70,"z":2.90},
{"r":1,"s":"b","i":20,"y":-0.80,"x":0.30,"z":2.80},
{"r":1,"s":"b","i":21,"y":-1.50,"x":-0.60,"z":2.60},
{"r":1,"s":"b","i":22,"y":-2.80,"x":-0.80,"z":2.45},
{"r":1,"s":"b","i":23,"y":-3.45,"x":-0.30,"z":2.40},
{"r":1,"s":"b","i":24,"y":-3.20,"x":0.55,"z":2.25},
{"r":1,"s":"b","i":25,"y":-1.80,"x":0.80,"z":2.10},
{"r":1,"s":"b","i":26,"y":0.10,"x":0.10,"z":2.20},
{"r":1,"s":"b","i":27,"y":1.50,"x":-0.60,"z":2.35},
{"r":1,"s":"b","i":28,"y":2.80,"x":-0.40,"z":3.30},
{"r":1,"s":"b","i":29,"y":3.25,"x":-0.45,"z":3.60},
{"r":1,"s":"b","i":30,"y":2.80,"x":0.55,"z":3.30},
{"r":1,"s":"b","i":31,"y":1.05,"x":0.80,"z":2.00},
{"r":1,"s":"b","i":32,"y":-0.75,"x":0.85,"z":1.68},
{"r":1,"s":"b","i":33,"y":-2.45,"x":0.62,"z":1.95},
{"r":1,"s":"b","i":34,"y":-3.45,"x":-0.10,"z":2.15},
{"r":1,"s":"b","i":35,"y":-2.25,"x":-0.72,"z":2.12},
{"r":1,"s":"b","i":36,"y":-0.55,"x":-0.88,"z":1.80},
{"r":1,"s":"b","i":37,"y":1.25,"x":-0.78,"z":2.10},
{"r":1,"s":"b","i":38,"y":2.65,"x":-0.50,"z":3.05},
{"r":1,"s":"b","i":39,"y":4.10,"x":0.10,"z":4.90},
{"r":1,"s":"b","i":40,"y":3.20,"x":0.70,"z":3.50},
{"r":1,"s":"b","i":41,"y":1.30,"x":0.90,"z":2.15},
{"r":1,"s":"b","i":42,"y":-0.50,"x":0.80,"z":1.72},
{"r":1,"s":"b","i":43,"y":-2.30,"x":0.70,"z":2.05},
{"r":1,"s":"b","i":44,"y":-3.40,"x":0.20,"z":2.40},
{"r":1,"s":"b","i":45,"y":-2.20,"x":-0.75,"z":2.00},
{"r":1,"s":"b","i":46,"y":-0.40,"x":-0.90,"z":1.65},
{"r":1,"s":"b","i":47,"y":1.40,"x":-0.75,"z":2.30},
{"r":1,"s":"b","i":48,"y":2.30,"x":-0.45,"z":3.80},
{"r":1,"s":"b","i":49,"y":2.43,"x":-0.20,"z":6.00},
{"r":1,"s":"b","i":50,"y":2.20,"x":1.00,"z":2.00},
{"r":1,"s":"b","i":51,"y":0.80,"x":0.95,"z":1.55},
{"r":1,"s":"b","i":52,"y":-1.00,"x":0.80,"z":1.80},
{"r":1,"s":"b","i":53,"y":-2.60,"x":0.55,"z":2.15},
{"r":1,"s":"b","i":54,"y":-3.85,"x":0.30,"z":1.80},
{"r":1,"s":"b","i":55,"y":-2.50,"x":-0.65,"z":1.95},
{"r":1,"s":"b","i":56,"y":-0.80,"x":-0.85,"z":1.75},
{"r":1,"s":"b","i":57,"y":1.00,"x":-0.80,"z":2.15},
{"r":1,"s":"b","i":58,"y":2.60,"x":-0.70,"z":3.40},
{"r":1,"s":"b","i":59,"y":3.43,"x":-0.80,"z":5.65},
{"r":1,"s":"b","i":60,"y":3.19,"x":0.50,"z":5.39},
{"r":1,"s":"b","i":61,"y":2.95,"x":0.70,"z":3.60},
{"r":1,"s":"b","i":62,"y":1.20,"x":0.80,"z":2.10},
{"r":1,"s":"b","i":63,"y":-0.60,"x":0.85,"z":1.60},
{"r":1,"s":"b","i":64,"y":-2.20,"x":0.70,"z":1.90},
{"r":1,"s":"b","i":65,"y":-3.60,"x":-0.30,"z":2.20},
{"r":1,"s":"b","i":66,"y":-2.30,"x":-0.78,"z":2.05},
{"r":1,"s":"b","i":67,"y":-0.50,"x":-0.90,"z":1.70},
{"r":1,"s":"b","i":68,"y":1.30,"x":-0.80,"z":2.20},
{"r":1,"s":"b","i":69,"y":2.90,"x":-0.60,"z":3.30},
{"r":1,"s":"b","i":70,"y":4.24,"x":0.40,"z":3.57},
{"r":1,"s":"b","i":71,"y":3.10,"x":0.75,"z":2.90},
{"r":1,"s":"b","i":72,"y":1.10,"x":0.85,"z":1.90},
{"r":1,"s":"b","i":73,"y":-0.90,"x":0.80,"z":1.65},
{"r":1,"s":"b","i":74,"y":-2.50,"x":0.60,"z":1.85},
{"r":1,"s":"b","i":75,"y":-4.40,"x":0.20,"z":1.50},
{"r":1,"s":"b","i":76,"y":-2.80,"x":-0.70,"z":1.80},
{"r":1,"s":"b","i":77,"y":-0.90,"x":-0.85,"z":1.60},
{"r":1,"s":"b","i":78,"y":1.00,"x":-0.80,"z":1.95},
{"r":1,"s":"b","i":79,"y":2.80,"x":-0.60,"z":2.90},
{"r":1,"s":"b","i":80,"y":4.08,"x":0.65,"z":4.30},
{"r":1,"s":"b","i":81,"y":3.30,"x":0.80,"z":3.00},
{"r":1,"s":"b","i":82,"y":1.40,"x":0.90,"z":2.10},
{"r":1,"s":"b","i":83,"y":-0.40,"x":0.85,"z":1.55},
{"r":1,"s":"b","i":84,"y":-2.20,"x":0.65,"z":1.80},
{"r":1,"s":"b","i":85,"y":-3.30,"x":0,"z":2.00},
{"r":1,"s":"b","i":86,"y":-2.10,"x":-0.70,"z":1.90},
{"r":1,"s":"b","i":87,"y":-0.30,"x":-0.85,"z":1.62},
{"r":1,"s":"b","i":88,"y":1.50,"x":-0.75,"z":2.40},
{"r":1,"s":"b","i":89,"y":2.60,"x":-0.40,"z":3.90},
{"r":1,"s":"b","i":90,"y":3.20,"x":0.55,"z":2.55},
{"r":1,"s":"b","i":91,"y":2.50,"x":1.50,"z":2.00},
{"r":1,"s":"b","i":92,"y":0,"x":2.44,"z":1.50},
{"r":1,"s":"b","i":93,"y":-2.08,"x":2.40,"z":1.30},
{"r":1,"s":"b","i":94,"y":-3.57,"x":1.45,"z":1.40},
{"r":1,"s":"b","i":95,"y":-4.40,"x":0.30,"z":1.50},
{"r":1,"s":"b","i":96,"y":-3.69,"x":-1.95,"z":1.60},
{"r":1,"s":"b","i":97,"y":-1.51,"x":-2.17,"z":1.65},
{"r":1,"s":"b","i":98,"y":1.61,"x":-1.74,"z":1.80},
{"r":1,"s":"b","i":99,"y":3.00,"x":-0.70,"z":2.45},
{"r":1,"s":"b","i":99.1,"y":2.40,"x":-0.80,"z":2.60},
{"r":1,"s":"b","i":99.2,"y":1.20,"x":-2.00,"z":2.10},
{"r":1,"s":"b","i":99.3,"y":-0.30,"x":-2.55,"z":1.80},
{"r":1,"s":"b","i":99.4,"y":-2.30,"x":-2.55,"z":1.60},
{"r":1,"s":"b","i":99.5,"y":-4.00,"x":-1.60,"z":1.50},
{"r":1,"s":"b","i":99.6,"y":-4.75,"x":0,"z":1.40},
{"r":1,"s":"b","i":99.7,"y":-4.10,"x":1.60,"z":1.35},
{"r":1,"s":"b","i":99.8,"y":-2.50,"x":2.45,"z":1.40},
{"r":1,"s":"b","i":99.9,"y":-0.40,"x":2.30,"z":1.50},
{"r":1,"s":"b","i":99.91,"y":1.40,"x":1.50,"z":1.80},
{"r":1,"s":"b","i":99.92,"y":2.70,"x":0.40,"z":2.40},
{"r":1,"s":"b","i":99.93,"y":3.10,"x":-0.20,"z":2.70},
{"r":1,"s":"b","i":99.94,"y":2.00,"x":-1.40,"z":2.20},
{"r":1,"s":"b","i":99.95,"y":0.50,"x":-2.00,"z":1.90},
{"r":1,"s":"b","i":99.96,"y":-1.50,"x":-2.20,"z":1.70},
{"r":1,"s":"b","i":99.97,"y":-3.30,"x":-1.40,"z":1.60},
{"r":1,"s":"b","i":99.98,"y":-4.20,"x":0.20,"z":1.50},
{"r":1,"s":"b","i":99.99,"y":-3.50,"x":1.50,"z":1.45},
{"r":1,"s":"b","i":99.995,"y":-1.50,"x":1.70,"z":1.50},
{"r":1,"s":"b","i":99.998,"y":0.50,"x":1.40,"z":1.60},
{"r":1,"s":"b","i":100,"y":1.45,"x":1.10,"z":1.07},
{"r":1,"s":"b","i":101,"y":-0.40,"x":2.00,"z":1.30},
{"r":1,"s":"b","i":102,"y":-2.75,"x":3.20,"z":1.20},
{"r":1,"s":"b","i":103,"y":-4.15,"x":2.17,"z":1.25},
{"r":1,"s":"b","i":104,"y":-5.20,"x":0.70,"z":1.14},
{"r":1,"s":"b","i":105,"y":-5.19,"x":-0.70,"z":1.20},
{"r":1,"s":"b","i":106,"y":-4.05,"x":-2.37,"z":1.40},
{"r":1,"s":"b","i":107,"y":-2.86,"x":-3.01,"z":1.55},
{"r":1,"s":"b","i":108,"y":0,"x":-2.29,"z":1.70},
{"r":1,"s":"b","i":109,"y":2.20,"x":-1.60,"z":2.30},
{"r":1,"s":"b","i":110,"y":1.80,"x":0.80,"z":1.60},
{"r":1,"s":"b","i":111,"y":0,"x":1.72,"z":1.30},
{"r":1,"s":"b","i":112,"y":-1.98,"x":2.50,"z":0.88},
{"r":1,"s":"b","i":113,"y":-4.07,"x":2.17,"z":0.42},
{"r":1,"s":"b","i":114,"y":-5.44,"x":0.77,"z":0.54},
{"r":1,"s":"b","i":115,"y":-4.50,"x":-1.20,"z":0.75},
{"r":1,"s":"b","i":116,"y":-2.60,"x":-2.20,"z":1.05},
{"r":1,"s":"b","i":117,"y":0.20,"x":-1.50,"z":1.40},
{"r":1,"s":"b","i":118,"y":1.50,"x":1.05,"z":1.05},
{"r":1,"s":"g","i":0,"y":2.92,"x":0,"z":4.69},
{"r":1,"s":"g","i":1,"y":3.05,"x":-0.12,"z":4.60},
{"r":1,"s":"g","i":2,"y":2.80,"x":-0.20,"z":4.52},
{"r":1,"s":"g","i":3,"y":2.95,"x":0.15,"z":4.45},
{"r":1,"s":"g","i":4,"y":3.10,"x":0.05,"z":4.40},
{"r":1,"s":"g","i":5,"y":2.30,"x":-0.60,"z":3.40},
{"r":1,"s":"g","i":6,"y":0.80,"x":-0.85,"z":2.20},
{"r":1,"s":"g","i":7,"y":-1.00,"x":-0.80,"z":1.90},
{"r":1,"s":"g","i":8,"y":-2.50,"x":-0.55,"z":3.10},
{"r":1,"s":"g","i":9,"y":-3.37,"x":0,"z":4.86},
{"r":1,"s":"g","i":10,"y":-1.87,"x":-1.62,"z":4.06},
{"r":1,"s":"g","i":11,"y":-2.60,"x":0.60,"z":3.40},
{"r":1,"s":"g","i":12,"y":-1.10,"x":0.85,"z":2.10},
{"r":1,"s":"g","i":13,"y":0.70,"x":0.85,"z":1.80},
{"r":1,"s":"g","i":14,"y":2.40,"x":0.65,"z":2.10},
{"r":1,"s":"g","i":15,"y":3.74,"x":0.10,"z":2.97},
{"r":1,"s":"g","i":16,"y":2.50,"x":-0.65,"z":2.95},
{"r":1,"s":"g","i":17,"y":0.90,"x":-0.85,"z":2.00},
{"r":1,"s":"g","i":18,"y":-0.90,"x":-0.80,"z":2.05},
{"r":1,"s":"g","i":19,"y":-2.60,"x":-0.60,"z":3.50},
{"r":1,"s":"g","i":20,"y":-3.22,"x":-0.20,"z":5.77},
{"r":1,"s":"g","i":21,"y":-2.90,"x":0.50,"z":3.90},
{"r":1,"s":"g","i":22,"y":-1.30,"x":0.80,"z":2.30},
{"r":1,"s":"g","i":23,"y":0.50,"x":0.85,"z":1.80},
{"r":1,"s":"g","i":24,"y":2.20,"x":0.70,"z":1.95},
{"r":1,"s":"g","i":25,"y":3.40,"x":0.20,"z":2.00},
{"r":1,"s":"g","i":26,"y":2.40,"x":-0.60,"z":2.10},
{"r":1,"s":"g","i":27,"y":0.70,"x":-0.85,"z":1.75},
{"r":1,"s":"g","i":28,"y":-1.20,"x":-0.80,"z":2.15},
{"r":1,"s":"g","i":29,"y":-2.70,"x":-0.50,"z":3.30},
{"r":1,"s":"g","i":30,"y":-3.69,"x":0.10,"z":5.52},
{"r":1,"s":"g","i":31,"y":-3.20,"x":0.60,"z":4.10},
{"r":1,"s":"g","i":32,"y":-1.50,"x":0.80,"z":2.40},
{"r":1,"s":"g","i":33,"y":0.40,"x":0.85,"z":1.85},
{"r":1,"s":"g","i":34,"y":2.00,"x":0.70,"z":1.90},
{"r":1,"s":"g","i":35,"y":3.70,"x":0,"z":1.67},
{"r":1,"s":"g","i":36,"y":2.60,"x":-0.65,"z":1.80},
{"r":1,"s":"g","i":37,"y":0.80,"x":-0.80,"z":1.70},
{"r":1,"s":"g","i":38,"y":-1.00,"x":-0.85,"z":2.10},
{"r":1,"s":"g","i":39,"y":-2.80,"x":-0.70,"z":3.00},
{"r":1,"s":"g","i":40,"y":-4.41,"x":0.20,"z":4.62},
{"r":1,"s":"g","i":41,"y":-3.50,"x":0.65,"z":3.20},
{"r":1,"s":"g","i":42,"y":-1.60,"x":0.80,"z":2.20},
{"r":1,"s":"g","i":43,"y":0.30,"x":0.80,"z":1.80},
{"r":1,"s":"g","i":44,"y":2.10,"x":0.65,"z":2.40},
{"r":1,"s":"g","i":45,"y":4.85,"x":-0.30,"z":4.42},
{"r":1,"s":"g","i":46,"y":3.00,"x":0.40,"z":3.00},
{"r":1,"s":"g","i":47,"y":2.00,"x":0.70,"z":3.00},
{"r":1,"s":"g","i":48,"y":0.50,"x":0.85,"z":2.00},
{"r":1,"s":"g","i":49,"y":-1.30,"x":0.80,"z":2.20},
{"r":1,"s":"g","i":50,"y":-2.95,"x":0.55,"z":2.90},
{"r":1,"s":"g","i":51,"y":-4.51,"x":-0.20,"z":3.90},
{"r":1,"s":"g","i":52,"y":-3.40,"x":-0.65,"z":3.05},
{"r":1,"s":"g","i":53,"y":-1.20,"x":-0.55,"z":2.00},
{"r":1,"s":"g","i":54,"y":-0.65,"x":-0.40,"z":1.95},
{"r":1,"s":"g","i":55,"y":-0.62,"x":0.10,"z":1.90},
{"r":1,"s":"g","i":56,"y":-0.90,"x":0.50,"z":1.92},
{"r":1,"s":"g","i":57,"y":-1.60,"x":0.55,"z":2.00},
{"r":1,"s":"g","i":58,"y":-1.85,"x":0.05,"z":2.05},
{"r":1,"s":"g","i":59,"y":-1.55,"x":-0.45,"z":2.00},
{"r":1,"s":"g","i":60,"y":0.30,"x":-0.50,"z":1.85},
{"r":1,"s":"g","i":61,"y":1.20,"x":-0.55,"z":1.90},
{"r":1,"s":"g","i":62,"y":1.75,"x":-0.10,"z":2.00},
{"r":1,"s":"g","i":63,"y":1.55,"x":0.50,"z":1.95},
{"r":1,"s":"g","i":64,"y":0.70,"x":0.55,"z":1.85},
{"r":1,"s":"g","i":65,"y":0.35,"x":0,"z":1.80},
{"r":1,"s":"g","i":65.1,"y":-3.20,"x":-0.80,"z":2.60},
{"r":1,"s":"g","i":65.2,"y":-1.50,"x":-1.90,"z":2.00},
{"r":1,"s":"g","i":65.3,"y":0.50,"x":-2.50,"z":1.80},
{"r":1,"s":"g","i":65.4,"y":2.50,"x":-2.40,"z":1.90},
{"r":1,"s":"g","i":65.5,"y":4.10,"x":-1.50,"z":1.70},
{"r":1,"s":"g","i":65.6,"y":4.50,"x":0,"z":1.50},
{"r":1,"s":"g","i":65.7,"y":4.00,"x":1.80,"z":1.40},
{"r":1,"s":"g","i":65.8,"y":2.40,"x":2.60,"z":1.30},
{"r":1,"s":"g","i":65.9,"y":0.40,"x":2.40,"z":1.40},
{"r":1,"s":"g","i":65.91,"y":-1.60,"x":1.50,"z":1.70},
{"r":1,"s":"g","i":65.92,"y":-3.00,"x":0.40,"z":2.40},
{"r":1,"s":"g","i":65.93,"y":-2.40,"x":-0.60,"z":2.20},
{"r":1,"s":"g","i":65.94,"y":-0.60,"x":-1.50,"z":1.90},
{"r":1,"s":"g","i":65.95,"y":1.20,"x":-2.10,"z":1.80},
{"r":1,"s":"g","i":65.96,"y":3.00,"x":-1.60,"z":1.80},
{"r":1,"s":"g","i":65.97,"y":3.90,"x":0.10,"z":1.60},
{"r":1,"s":"g","i":65.98,"y":3.40,"x":1.70,"z":1.50},
{"r":1,"s":"g","i":65.99,"y":1.60,"x":2.20,"z":1.40},
{"r":1,"s":"g","i":65.995,"y":-0.30,"x":1.80,"z":1.50},
{"r":1,"s":"g","i":65.998,"y":-1.90,"x":0.90,"z":1.80},
{"r":1,"s":"g","i":66,"y":2.39,"x":-1.46,"z":2.20},
{"r":1,"s":"g","i":67,"y":3.79,"x":-0.98,"z":2.25},
{"r":1,"s":"g","i":68,"y":3.84,"x":1.25,"z":1.90},
{"r":1,"s":"g","i":69,"y":3.22,"x":2.44,"z":1.50},
{"r":1,"s":"g","i":70,"y":0.78,"x":2.20,"z":1.50},
{"r":1,"s":"g","i":71,"y":-1.20,"x":1.90,"z":1.70},
{"r":1,"s":"g","i":72,"y":-3.74,"x":0.77,"z":2.50},
{"r":1,"s":"g","i":73,"y":-4.36,"x":0.02,"z":2.70},
{"r":1,"s":"g","i":74,"y":-4.20,"x":-1.10,"z":2.60},
{"r":1,"s":"g","i":75,"y":-1.87,"x":-1.62,"z":2.00},
{"r":1,"s":"g","i":76,"y":-0.10,"x":-2.10,"z":1.80},
{"r":1,"s":"g","i":77,"y":1.35,"x":-3.05,"z":2.10},
{"r":1,"s":"g","i":78,"y":3.06,"x":-2.37,"z":2.40},
{"r":1,"s":"g","i":79,"y":4.98,"x":-1.54,"z":1.40},
{"r":1,"s":"g","i":80,"y":4.96,"x":1.65,"z":1.35},
{"r":1,"s":"g","i":81,"y":1.77,"x":3.28,"z":0.95},
{"r":1,"s":"g","i":82,"y":-0.20,"x":2.40,"z":1.00},
{"r":1,"s":"g","i":83,"y":-2.00,"x":1.80,"z":1.30},
{"r":1,"s":"g","i":84,"y":-3.60,"x":0.75,"z":1.90},
{"r":1,"s":"g","i":85,"y":-2.90,"x":-0.70,"z":1.60},
{"r":1,"s":"g","i":86,"y":-0.80,"x":-1.90,"z":1.30},
{"r":1,"s":"g","i":87,"y":1.40,"x":-2.81,"z":1.45},
{"r":1,"s":"g","i":88,"y":3.80,"x":-2.30,"z":1.60},
{"r":1,"s":"g","i":89,"y":4.87,"x":-0.20,"z":0.93},
{"r":1,"s":"g","i":90,"y":4.50,"x":1.00,"z":0.95},
{"r":1,"s":"g","i":91,"y":0,"x":1.50,"z":1.55},
{"r":1,"s":"g","i":92,"y":1.40,"x":2.00,"z":0.53},
{"r":1,"s":"g","i":93,"y":5.40,"x":-0.42,"z":0}
]},
"columns":2,
"bounds":"flush",
"spacing":{"row":103,"column":76},
"concat":[
{"width":380,"height":334,"data":{"name":"d"},"transform":[{"filter":"datum.r == 1"}],
 "title":{"text":"(a)","orient":"bottom"},
 "mark":{"type":"line","strokeWidth":1,"clip":true},
 "encoding":{
  "x":{"field":"y","type":"quantitative","scale":{"domain":[-6,6],"nice":false},"axis":{"title":"Y-axis (cm)","values":[-6,-4,-2,0,2,4,6]}},
  "y":{"field":"z","type":"quantitative","scale":{"domain":[-1,6],"nice":false},"axis":{"title":"Z-axis (cm)","values":[-1,0,1,2,3,4,5,6]}},
  "color":{"field":"s","type":"nominal","scale":{"domain":["b","g"],"range":["#4d52c4","#55b260"]},"legend":null},
  "order":{"field":"i","type":"quantitative"}}},
{"width":384,"height":334,"data":{"name":"d"},"transform":[{"filter":"datum.r == 1"}],
 "title":{"text":"(b)","orient":"bottom"},
 "mark":{"type":"line","strokeWidth":1,"clip":true},
 "encoding":{
  "x":{"field":"y","type":"quantitative","scale":{"domain":[-6,6],"nice":false},"axis":{"title":"Y-axis (cm)","values":[-6,-4,-2,0,2,4,6]}},
  "y":{"field":"x","type":"quantitative","scale":{"domain":[-4,4],"nice":false,"reverse":true},"axis":{"title":"X-axis (cm)","values":[-4,-3,-2,-1,0,1,2,3,4]}},
  "color":{"field":"s","type":"nominal","scale":{"domain":["b","g"],"range":["#4d52c4","#55b260"]},"legend":null},
  "order":{"field":"i","type":"quantitative"}}},
{"width":380,"height":334,"data":{"name":"d"},"transform":[{"filter":"datum.r == 2"}],
 "title":{"text":"(c)","orient":"bottom"},
 "mark":{"type":"line","strokeWidth":1,"clip":true},
 "encoding":{
  "x":{"field":"y","type":"quantitative","scale":{"domain":[-6,6],"nice":false},"axis":{"title":"Y-axis (cm)","values":[-6,-4,-2,0,2,4,6]}},
  "y":{"field":"z","type":"quantitative","scale":{"domain":[-1,6],"nice":false},"axis":{"title":"Z-axis (cm)","values":[-1,0,1,2,3,4,5,6]}},
  "color":{"field":"s","type":"nominal","scale":{"domain":["b","g"],"range":["#4d52c4","#55b260"]},"legend":null},
  "order":{"field":"i","type":"quantitative"}}},
{"width":384,"height":334,"data":{"name":"d"},"transform":[{"filter":"datum.r == 2"}],
 "title":{"text":"(d)","orient":"bottom"},
 "mark":{"type":"line","strokeWidth":1,"clip":true},
 "encoding":{
  "x":{"field":"y","type":"quantitative","scale":{"domain":[-6,6],"nice":false},"axis":{"title":"Y-axis (cm)","values":[-6,-4,-2,0,2,4,6]}},
  "y":{"field":"x","type":"quantitative","scale":{"domain":[-4,4],"nice":false,"reverse":true},"axis":{"title":"X-axis (cm)","values":[-4,-3,-2,-1,0,1,2,3,4]}},
  "color":{"field":"s","type":"nominal","scale":{"domain":["b","g"],"range":["#4d52c4","#55b260"]},"legend":null},
  "order":{"field":"i","type":"quantitative"}}},
{"width":380,"height":334,"data":{"name":"d"},"transform":[{"filter":"datum.r == 3"}],
 "title":{"text":"(e)","orient":"bottom"},
 "mark":{"type":"line","strokeWidth":1,"clip":true},
 "encoding":{
  "x":{"field":"y","type":"quantitative","scale":{"domain":[-6,6],"nice":false},"axis":{"title":"Y-axis (cm)","values":[-6,-4,-2,0,2,4,6]}},
  "y":{"field":"z","type":"quantitative","scale":{"domain":[-1,6],"nice":false},"axis":{"title":"Z-axis (cm)","values":[-1,0,1,2,3,4,5,6]}},
  "color":{"field":"s","type":"nominal","scale":{"domain":["b","g"],"range":["#4d52c4","#55b260"]},"legend":null},
  "order":{"field":"i","type":"quantitative"}}},
{"width":384,"height":334,"data":{"name":"d"},"transform":[{"filter":"datum.r == 3"}],
 "title":{"text":"(f)","orient":"bottom"},
 "mark":{"type":"line","strokeWidth":1,"clip":true},
 "encoding":{
  "x":{"field":"y","type":"quantitative","scale":{"domain":[-6,6],"nice":false},"axis":{"title":"Y-axis (cm)","values":[-6,-4,-2,0,2,4,6]}},
  "y":{"field":"x","type":"quantitative","scale":{"domain":[-4,4],"nice":false,"reverse":true},"axis":{"title":"X-axis (cm)","values":[-4,-3,-2,-1,0,1,2,3,4]}},
  "color":{"field":"s","type":"nominal","scale":{"domain":["b","g"],"range":["#4d52c4","#55b260"]},"legend":null},
  "order":{"field":"i","type":"quantitative"}}}
],
"config":{
 "font":"Liberation Sans",
 "view":{"stroke":"#808080","strokeWidth":1},
 "axis":{"domain":false,"ticks":false,"grid":true,"gridColor":"#7a7a7a","gridDash":[1.5,1.5],"gridWidth":0.8,
  "labelFont":"Liberation Sans","labelFontSize":13.5,"labelColor":"#262626","labelPadding":4,
  "titleFont":"Liberation Sans","titleFontSize":14.5,"titleFontWeight":"normal","titleColor":"#262626","titlePadding":3},
 "axisY":{"labelPadding":3},
 "title":{"font":"Liberation Serif","fontSize":21,"fontWeight":"normal","color":"#111111","offset":10}
}
}
